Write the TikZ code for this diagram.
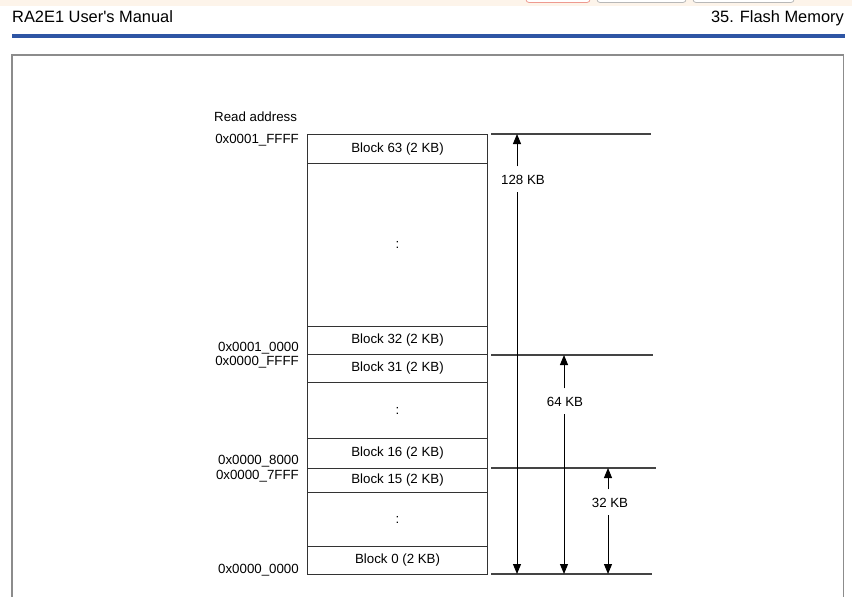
\documentclass[tikz,border=0pt]{standalone}
\usepackage{fontspec}
\setmainfont{Liberation Sans}
\newfontfamily\hdrfont{Liberation Sans}
\usetikzlibrary{arrows.meta}
\definecolor{hdrblue}{HTML}{2E55A4}
\definecolor{framegray}{HTML}{8C8C8C}
\definecolor{linegray}{HTML}{333333}
\definecolor{rulegray}{HTML}{444444}
\definecolor{beige}{HTML}{FDF4EA}
\definecolor{btnred}{HTML}{EE9A90}
\definecolor{btngray}{HTML}{B8B8B8}
\begin{document}
\begin{tikzpicture}[x=1pt,y=-1pt,
  blk/.style={draw=linegray, line width=1.1pt, minimum width=180pt, inner sep=0pt, anchor=north west, font=\fontsize{13.3}{15}\selectfont},
  txt/.style={font=\fontsize{13.3}{15}\selectfont, inner sep=0pt},
  addr/.style={txt, anchor=base east},
  sizelbl/.style={txt, anchor=base, text height=9.5pt, text depth=0pt, inner ysep=8pt, inner xsep=0pt},
  dimarrow/.style={line width=1pt, draw=black, -{Triangle[length=10pt,width=8pt]}},
  rule/.style={line width=1.1pt, draw=rulegray},
  btn/.style={line width=0.8pt, rounded corners=3pt},
  hdr/.style={inner sep=0pt, font=\hdrfont\fontsize{16.4}{18}\selectfont}
]
\useasboundingbox (0,0) rectangle (852,597);
\fill[white] (0,0) rectangle (852,597);
% top strip with buttons
\fill[beige] (0,0) rectangle (852,6);
\draw[btn, draw=btnred, fill=white] (526,-10) rectangle (590,2.5);
\draw[btn, draw=btngray, fill=white] (597,-10) rectangle (686,2.5);
\draw[btn, draw=btngray, fill=white] (693,-10) rectangle (794,2.5);
% header
\node[hdr, anchor=base west] (hl) at (12,22) {RA2E1 User's Manual};
\node[hdr, anchor=base east] (hr) at (844,22) {35. Flash Memory};
\fill[hdrblue] (12,33.5) rectangle (845,38);
% frame
\draw[framegray, line width=1.8pt] (12,610) -- (12,55) -- (843.5,55) -- (843.5,610);

% memory blocks
\node[blk, minimum height=29pt] (b63) at (307,134) {Block 63 (2 KB)};
\node[blk, minimum height=163pt] (g1) at (307,163) {:};
\node[blk, minimum height=28pt] (b32) at (307,326) {Block 32 (2 KB)};
\node[blk, minimum height=28pt] (b31) at (307,354) {Block 31 (2 KB)};
\node[blk, minimum height=56pt] (g2) at (307,382) {:};
\node[blk, minimum height=30pt] (b16) at (307,438) {Block 16 (2 KB)};
\node[blk, minimum height=24pt] (b15) at (307,468) {Block 15 (2 KB)};
\node[blk, minimum height=54pt] (g3) at (307,492) {:};
\node[blk, minimum height=28pt] (b0) at (307,546) {Block 0 (2 KB)};

% addresses
\node[txt, anchor=base west] (ra) at (214,121) {Read address};
\node[addr] (a1) at (299,143) {0x0001\_FFFF};
\node[addr] (a2) at (299,351) {0x0001\_0000};
\node[addr] (a3) at (299,365) {0x0000\_FFFF};
\node[addr] (a4) at (299,464) {0x0000\_8000};
\node[addr] (a5) at (299,479) {0x0000\_7FFF};
\node[addr] (a6) at (299,573) {0x0000\_0000};

% right side rules
\coordinate (r1a) at (491,134); \coordinate (r1b) at (651,134);
\coordinate (r2a) at (491,355); \coordinate (r2b) at (653,355);
\coordinate (r3a) at (491,468); \coordinate (r3b) at (656,468);
\coordinate (r4a) at (491,574); \coordinate (r4b) at (652,574);
\draw[rule] (r1a) -- (r1b);
\draw[rule] (r2a) -- (r2b);
\draw[rule] (r3a) -- (r3b);
\draw[rule] (r4a) -- (r4b);

% size arrows
\coordinate (t128) at (517,134); \coordinate (e128) at (517,574);
\coordinate (t64) at (564,355); \coordinate (e64) at (564,574);
\coordinate (t32) at (608,468); \coordinate (e32) at (608,574);
\node[sizelbl] (l128) at (523,184) {128 KB};
\node[sizelbl] (l64) at (565,406) {64 KB};
\node[sizelbl] (l32) at (610,507) {32 KB};
\draw[dimarrow] (l128.north -| t128) -- (t128);
\draw[dimarrow] (l128.south -| e128) -- (e128);
\draw[dimarrow] (l64.north -| t64) -- (t64);
\draw[dimarrow] (l64.south -| e64) -- (e64);
\draw[dimarrow] (l32.north -| t32) -- (t32);
\draw[dimarrow] (l32.south -| e32) -- (e32);
\end{tikzpicture}
\end{document}
